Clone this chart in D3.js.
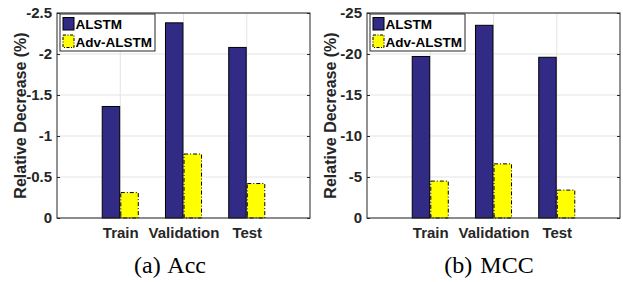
<!DOCTYPE html>
<html>
<head>
<meta charset="utf-8">
<script src="https://cdn.jsdelivr.net/npm/d3@7"></script>
<style>
  body { margin: 0; background: #fff; }
  svg { display: block; }
</style>
</head>
<body>
<div id="chart"></div>
<script>
// data (relative decrease, %)
const categories = ["Train", "Validation", "Test"];
const series = ["ALSTM", "Adv-ALSTM"];
const accALSTM = [-1.36, -2.38, -2.08];
const accAdv = [-0.31, -0.78, -0.42];
const mccALSTM = [-19.7, -23.5, -19.6];
const mccAdv = [-4.5, -6.6, -3.4];
const accTicks = [0, -0.5, -1, -1.5, -2, -2.5];
const mccTicks = [0, -5, -10, -15, -20, -25];

const W = 623, H = 282;
const plotTop = 13, plotBottom = 218, plotW = 253;
const colors = {"ALSTM": "#322b85", "Adv-ALSTM": "#ffff00"};
const axisColor = "#262626";
const font = "'Liberation Sans', Arial, Helvetica, sans-serif";

const svg = d3.select("#chart")
  .append("svg")
    .attr("width", W)
    .attr("height", H);

function drawPanel(left, vals, ticks, caption, capX) {
  const g = svg.append("g");
  const x = d3.scaleLinear().domain([0, 4]).range([left, left + plotW]);
  const y = d3.scaleLinear().domain([0, d3.min(ticks)]).range([plotBottom, plotTop]);
  // offset of each series inside a group, in x units
  const xs = d3.scaleBand().domain(series).range([-0.285, 0.285]).paddingInner(0.06);

  // grid
  g.append("g")
    .selectAll("line.h")
    .data(ticks)
    .join("line")
      .attr("x1", x(0)).attr("x2", x(4))
      .attr("y1", d => y(d)).attr("y2", d => y(d))
      .attr("stroke", "#e3e3e3");
  g.append("g")
    .selectAll("line.v")
    .data([1, 2, 3])
    .join("line")
      .attr("x1", d => x(d)).attr("x2", d => x(d))
      .attr("y1", plotTop).attr("y2", plotBottom)
      .attr("stroke", "#e3e3e3");

  // bars
  const rows = categories.map((c, i) => ({cat: c, i: i, vals: [vals[0][i], vals[1][i]]}));
  series.forEach((s, k) => {
    const bw = x(xs.bandwidth()) - x(0);
    g.append("g")
      .selectAll("rect")
      .data(rows)
      .join("rect")
        .attr("x", d => x(d.i + 1 + xs(s)))
        .attr("width", bw)
        .attr("y", d => y(d.vals[k]))
        .attr("height", d => y(0) - y(d.vals[k]))
        .attr("fill", colors[s])
        .attr("stroke", "#000")
        .attr("stroke-width", 1)
        .attr("stroke-dasharray", k === 1 ? "4,2,1,2" : null);
  });

  // axes
  const yAx = g.append("g")
    .attr("transform", `translate(${x(0)},0)`)
    .call(d3.axisLeft(y).tickValues(ticks).tickFormat(d => String(d)).tickSize(-3).tickPadding(5));
  const yAxR = g.append("g")
    .attr("transform", `translate(${x(4)},0)`)
    .call(d3.axisRight(y).tickValues(ticks).tickFormat("").tickSize(-3));
  const xAx = g.append("g")
    .attr("transform", `translate(0,${plotBottom})`)
    .call(d3.axisBottom(x).tickValues([1, 2, 3]).tickFormat(d => categories[d - 1]).tickSize(-3).tickPadding(9));
  [yAx, yAxR, xAx].forEach(a => {
    a.select(".domain").remove();
    a.selectAll("line").attr("stroke", axisColor);
    a.selectAll("text")
      .attr("fill", "#262626")
      .style("font-family", font)
      .style("font-weight", "bold")
      .style("font-size", "15px");
  });
  // box
  g.append("rect")
    .attr("x", x(0)).attr("y", plotTop)
    .attr("width", x(4) - x(0)).attr("height", plotBottom - plotTop)
    .attr("fill", "none")
    .attr("stroke", axisColor)
    .attr("stroke-width", 1);

  // y label
  g.append("text")
    .attr("transform", `translate(${left - 31},${(plotTop + plotBottom) / 2}) rotate(-90)`)
    .attr("text-anchor", "middle")
    .attr("fill", "#262626")
    .style("font-family", font)
    .style("font-weight", "bold")
    .style("font-size", "16px")
    .text("Relative Decrease (%)");

  // legend
  const lg = g.append("g").attr("transform", `translate(${left + 3},14)`);
  lg.append("rect")
    .attr("x", 0).attr("y", 0).attr("width", 95).attr("height", 37)
    .attr("fill", "#fff").attr("stroke", axisColor);
  series.forEach((s, k) => {
    lg.append("rect")
      .attr("x", 3).attr("y", 3.5 + k * 17.5)
      .attr("width", 11).attr("height", 12.5)
      .attr("fill", colors[s])
      .attr("stroke", "#000")
      .attr("stroke-dasharray", k === 1 ? "3,1.5,1,1.5" : null);
    lg.append("text")
      .attr("x", 15.5).attr("y", 15 + k * 18)
      .attr("fill", "#000")
      .style("font-family", font)
      .style("font-weight", "bold")
      .style("font-size", "13.5px")
      .text(s);
  });

  // caption
  const cap = g.append("text")
    .attr("x", capX).attr("y", 273)
    .attr("text-anchor", "middle")
    .attr("fill", "#000")
    .style("font-family", "'Liberation Serif', 'Times New Roman', serif")
    .style("font-size", "24px");
  cap.append("tspan").text(caption[0]);
  cap.append("tspan").attr("dx", 2).text(" " + caption[1]);
}

drawPanel(57, [accALSTM, accAdv], accTicks, ["(a)", "Acc"], 170);
drawPanel(367, [mccALSTM, mccAdv], mccTicks, ["(b)", "MCC"], 489);
</script>
</body>
</html>
